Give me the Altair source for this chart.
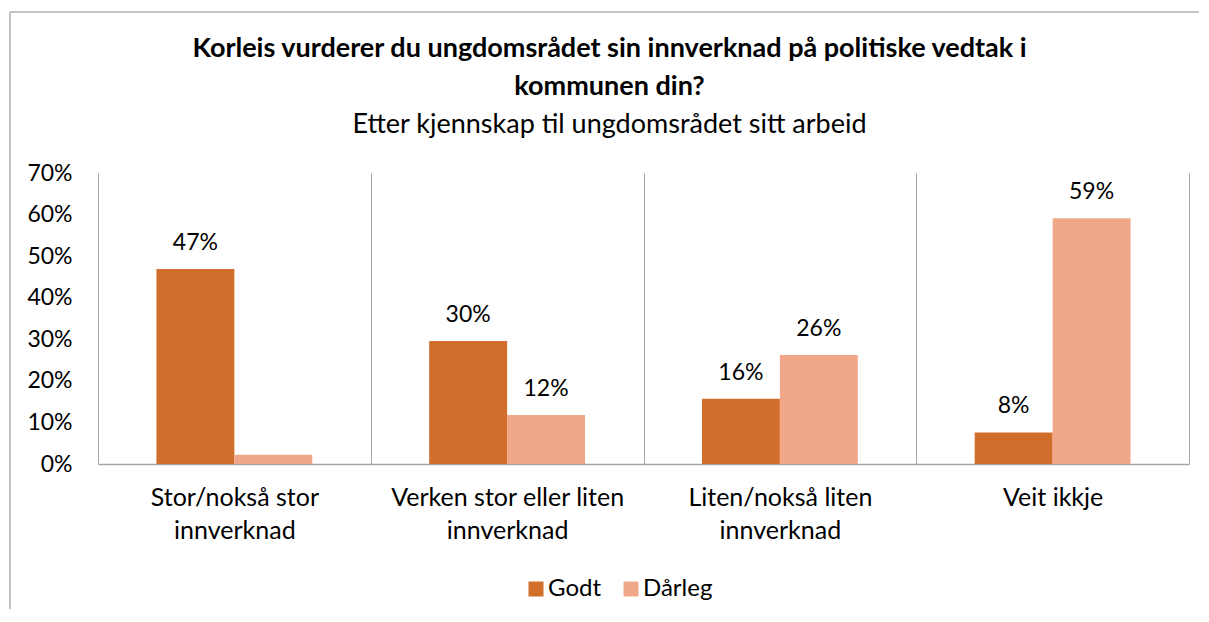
import altair as alt
import pandas as pd

categories = [
    "Stor/nokså stor|innverknad",
    "Verken stor eller liten|innverknad",
    "Liten/nokså liten|innverknad",
    "Veit ikkje",
]
series = ["Godt", "Dårleg"]
godt = [0.469, 0.296, 0.157, 0.076]
darleg = [0.022, 0.118, 0.262, 0.591]
colors = ["#D26E2B", "#F1A88A"]
y_ticks = [0, 0.1, 0.2, 0.3, 0.4, 0.5, 0.6, 0.7]

rows = []
for i, c in enumerate(categories):
    rows.append({"cat": c, "serie": "Godt", "value": godt[i], "order": 0})
    rows.append({"cat": c, "serie": "Dårleg", "value": darleg[i], "order": 1})
df = pd.DataFrame(rows)

FONT = "Lato"
W, H = 1091, 291

x_enc = alt.X(
    "cat:N",
    sort=categories,
    title=None,
    scale=alt.Scale(paddingInner=0, paddingOuter=0),
    axis=alt.Axis(
        labelExpr="split(datum.label, '|')",
        labelAngle=0,
        labelFontSize=25,
        labelFont=FONT,
        labelColor="#000000",
        labelLineHeight=33,
        labelPadding=41,
        labelBaseline="alphabetic",
        labelLimit=0,
        ticks=False,
        grid=True,
        tickBand="extent",
        gridColor="#A6A6A6",
        gridWidth=1,
        domainColor="#A6A6A6",
        domainWidth=1.5,
    ),
)
xoff = alt.XOffset("serie:N", sort=series, scale=alt.Scale(paddingInner=0, paddingOuter=0.75))
y_enc = alt.Y(
    "value:Q",
    title=None,
    scale=alt.Scale(domain=[0, 0.7], nice=False),
    axis=alt.Axis(
        values=y_ticks,
        format=".0%",
        grid=False,
        domain=False,
        ticks=False,
        labelFontSize=23,
        labelFont=FONT,
        labelColor="#000000",
        labelPadding=26,
        labelBaseline="middle",
    ),
)

base = alt.Chart(df)

bars = base.mark_bar().encode(
    x=x_enc,
    xOffset=xoff,
    y=y_enc,
    color=alt.Color(
        "serie:N",
        sort=series,
        scale=alt.Scale(domain=series, range=colors),
        legend=alt.Legend(
            title=None,
            orient="none",
            direction="horizontal",
            legendX=426,
            legendY=404,
            symbolType="square",
            symbolSize=225,
            symbolStrokeWidth=0,
            labelFontSize=24,
            labelFont=FONT,
            labelColor="#000000",
            columnPadding=17,
            labelOffset=0,
        ),
    ),
)

labels = base.transform_filter("datum.value >= 0.05").mark_text(
    baseline="alphabetic", dy=-19, fontSize=23, font=FONT, color="#000000"
).encode(
    x=alt.X("cat:N", sort=categories),
    xOffset=xoff,
    y=alt.Y("value:Q"),
    text=alt.Text("value:Q", format=".0%"),
)

border_data = alt.Data(values=[{"k": 1}])
border_left = alt.Chart(border_data).mark_rule(color="#888888", strokeWidth=1).encode(
    x=alt.value(-88), y=alt.value(-161), y2=alt.value(460)
)
border_top = alt.Chart(border_data).mark_rule(color="#888888", strokeWidth=1).encode(
    x=alt.value(-88), x2=alt.value(1130), y=alt.value(-161)
)

chart = (
    alt.layer(border_left, border_top, bars, labels)
    .properties(
        width=W,
        height=H,
        autosize=alt.AutoSizeParams(type="none"),
        padding={"left": 90, "top": 165, "right": 10, "bottom": 145},
        title=alt.TitleParams(
            text=[
                "Korleis vurderer du ungdomsrådet sin innverknad på politiske vedtak i",
                "kommunen din?",
            ],
            subtitle="Etter kjennskap til ungdomsrådet sitt arbeid",
            font=FONT,
            fontSize=27,
            fontWeight="bold",
            color="#000000",
            lineHeight=38,
            subtitleFont=FONT,
            subtitleFontSize=27,
            subtitleColor="#000000",
            subtitlePadding=11,
            anchor="middle",
            frame="group",
            dx=-34,
            dy=157,
            offset=30,
        ),
    )
    .configure_view(stroke=None)
)

chart.save("out.html", embed_options={"renderer": "svg", "actions": False})
